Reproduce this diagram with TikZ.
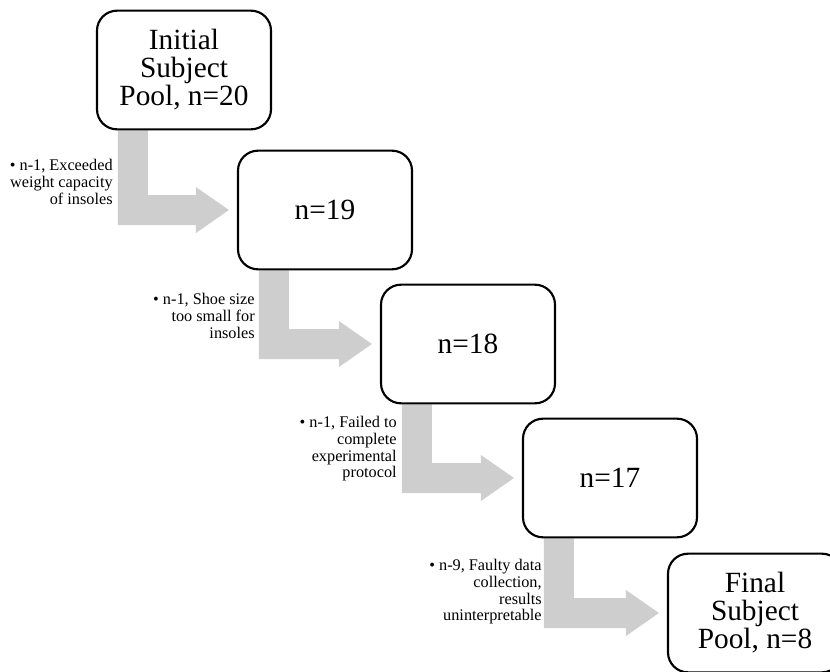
\documentclass[tikz,border=0pt]{standalone}
\usepackage{fontspec}
\setmainfont{Liberation Serif}
\usetikzlibrary{calc,backgrounds}
\definecolor{arrowgray}{RGB}{206,206,206}

\begin{document}
\begin{tikzpicture}[x=0.75pt,y=-0.75pt,
        stage/.style={draw, line width=1.6pt, rounded corners=15pt, fill=white,
          minimum width=130.5pt, minimum height=89pt, inner sep=0pt,
          align=center, font=\fontsize{22}{21}\selectfont},
        note/.style={anchor=east, inner sep=0pt, align=right,
          font=\fontsize{12.2}{12.5}\selectfont},
        drop/.style={fill=arrowgray}]
        \useasboundingbox (0,0) rectangle (830,671);
        \clip (0,0) rectangle (830,671);

        % subject pool at each stage
        \node[stage] (pool0) at (184,70) {Initial\\Subject\\Pool, n=20};
        \node[stage] (pool1) at (325,210) {n=19};
        \node[stage] (pool2) at (468,344) {n=18};
        \node[stage] (pool3) at (610,478) {n=17};
        \node[stage] (pool4) at (755,613) {Final\\Subject\\Pool, n=8};

        % bent arrows between the stages
        \begin{scope}[on background layer]
        \fill[drop] ($(pool0.south west)+(22,0)$) -- ($(pool0.south west)+(52,0)$) -- ($(pool0.south west|-pool1.west)+(52,-15)$) -- ($(pool1.west)+(-41,-15)$) -- ($(pool1.west)+(-41,-23)$) -- ($(pool1.west)+(-8,0)$) -- ($(pool1.west)+(-41,23)$) -- ($(pool1.west)+(-41,15)$) -- ($(pool0.south west|-pool1.west)+(22,15)$) -- cycle;
        \fill[drop] ($(pool1.south west)+(22,0)$) -- ($(pool1.south west)+(52,0)$) -- ($(pool1.south west|-pool2.west)+(52,-15)$) -- ($(pool2.west)+(-41,-15)$) -- ($(pool2.west)+(-41,-23)$) -- ($(pool2.west)+(-8,0)$) -- ($(pool2.west)+(-41,23)$) -- ($(pool2.west)+(-41,15)$) -- ($(pool1.south west|-pool2.west)+(22,15)$) -- cycle;
        \fill[drop] ($(pool2.south west)+(22,0)$) -- ($(pool2.south west)+(52,0)$) -- ($(pool2.south west|-pool3.west)+(52,-15)$) -- ($(pool3.west)+(-41,-15)$) -- ($(pool3.west)+(-41,-23)$) -- ($(pool3.west)+(-8,0)$) -- ($(pool3.west)+(-41,23)$) -- ($(pool3.west)+(-41,15)$) -- ($(pool2.south west|-pool3.west)+(22,15)$) -- cycle;
        \fill[drop] ($(pool3.south west)+(22,0)$) -- ($(pool3.south west)+(52,0)$) -- ($(pool3.south west|-pool4.west)+(52,-15)$) -- ($(pool4.west)+(-41,-15)$) -- ($(pool4.west)+(-41,-23)$) -- ($(pool4.west)+(-8,0)$) -- ($(pool4.west)+(-41,23)$) -- ($(pool4.west)+(-41,15)$) -- ($(pool3.south west|-pool4.west)+(22,15)$) -- cycle;
        \end{scope}

        % reasons for exclusion
        \node[note] (drop1) at ($(pool0.south west|-pool1.west)+(17,-28)$) {• n-1, Exceeded\\weight capacity\\of insoles};
        \node[note] (drop2) at ($(pool1.south west|-pool2.west)+(18,-28)$) {• n-1, Shoe size\\too small for\\insoles};
        \node[note] (drop3) at ($(pool2.south west|-pool3.west)+(17,-29)$) {• n-1, Failed to\\complete\\experimental\\protocol};
        \node[note] (drop4) at ($(pool3.south west|-pool4.west)+(20,-21)$) {• n-9, Faulty data\\collection,\\results\\uninterpretable};
        \end{tikzpicture}
\end{document}
